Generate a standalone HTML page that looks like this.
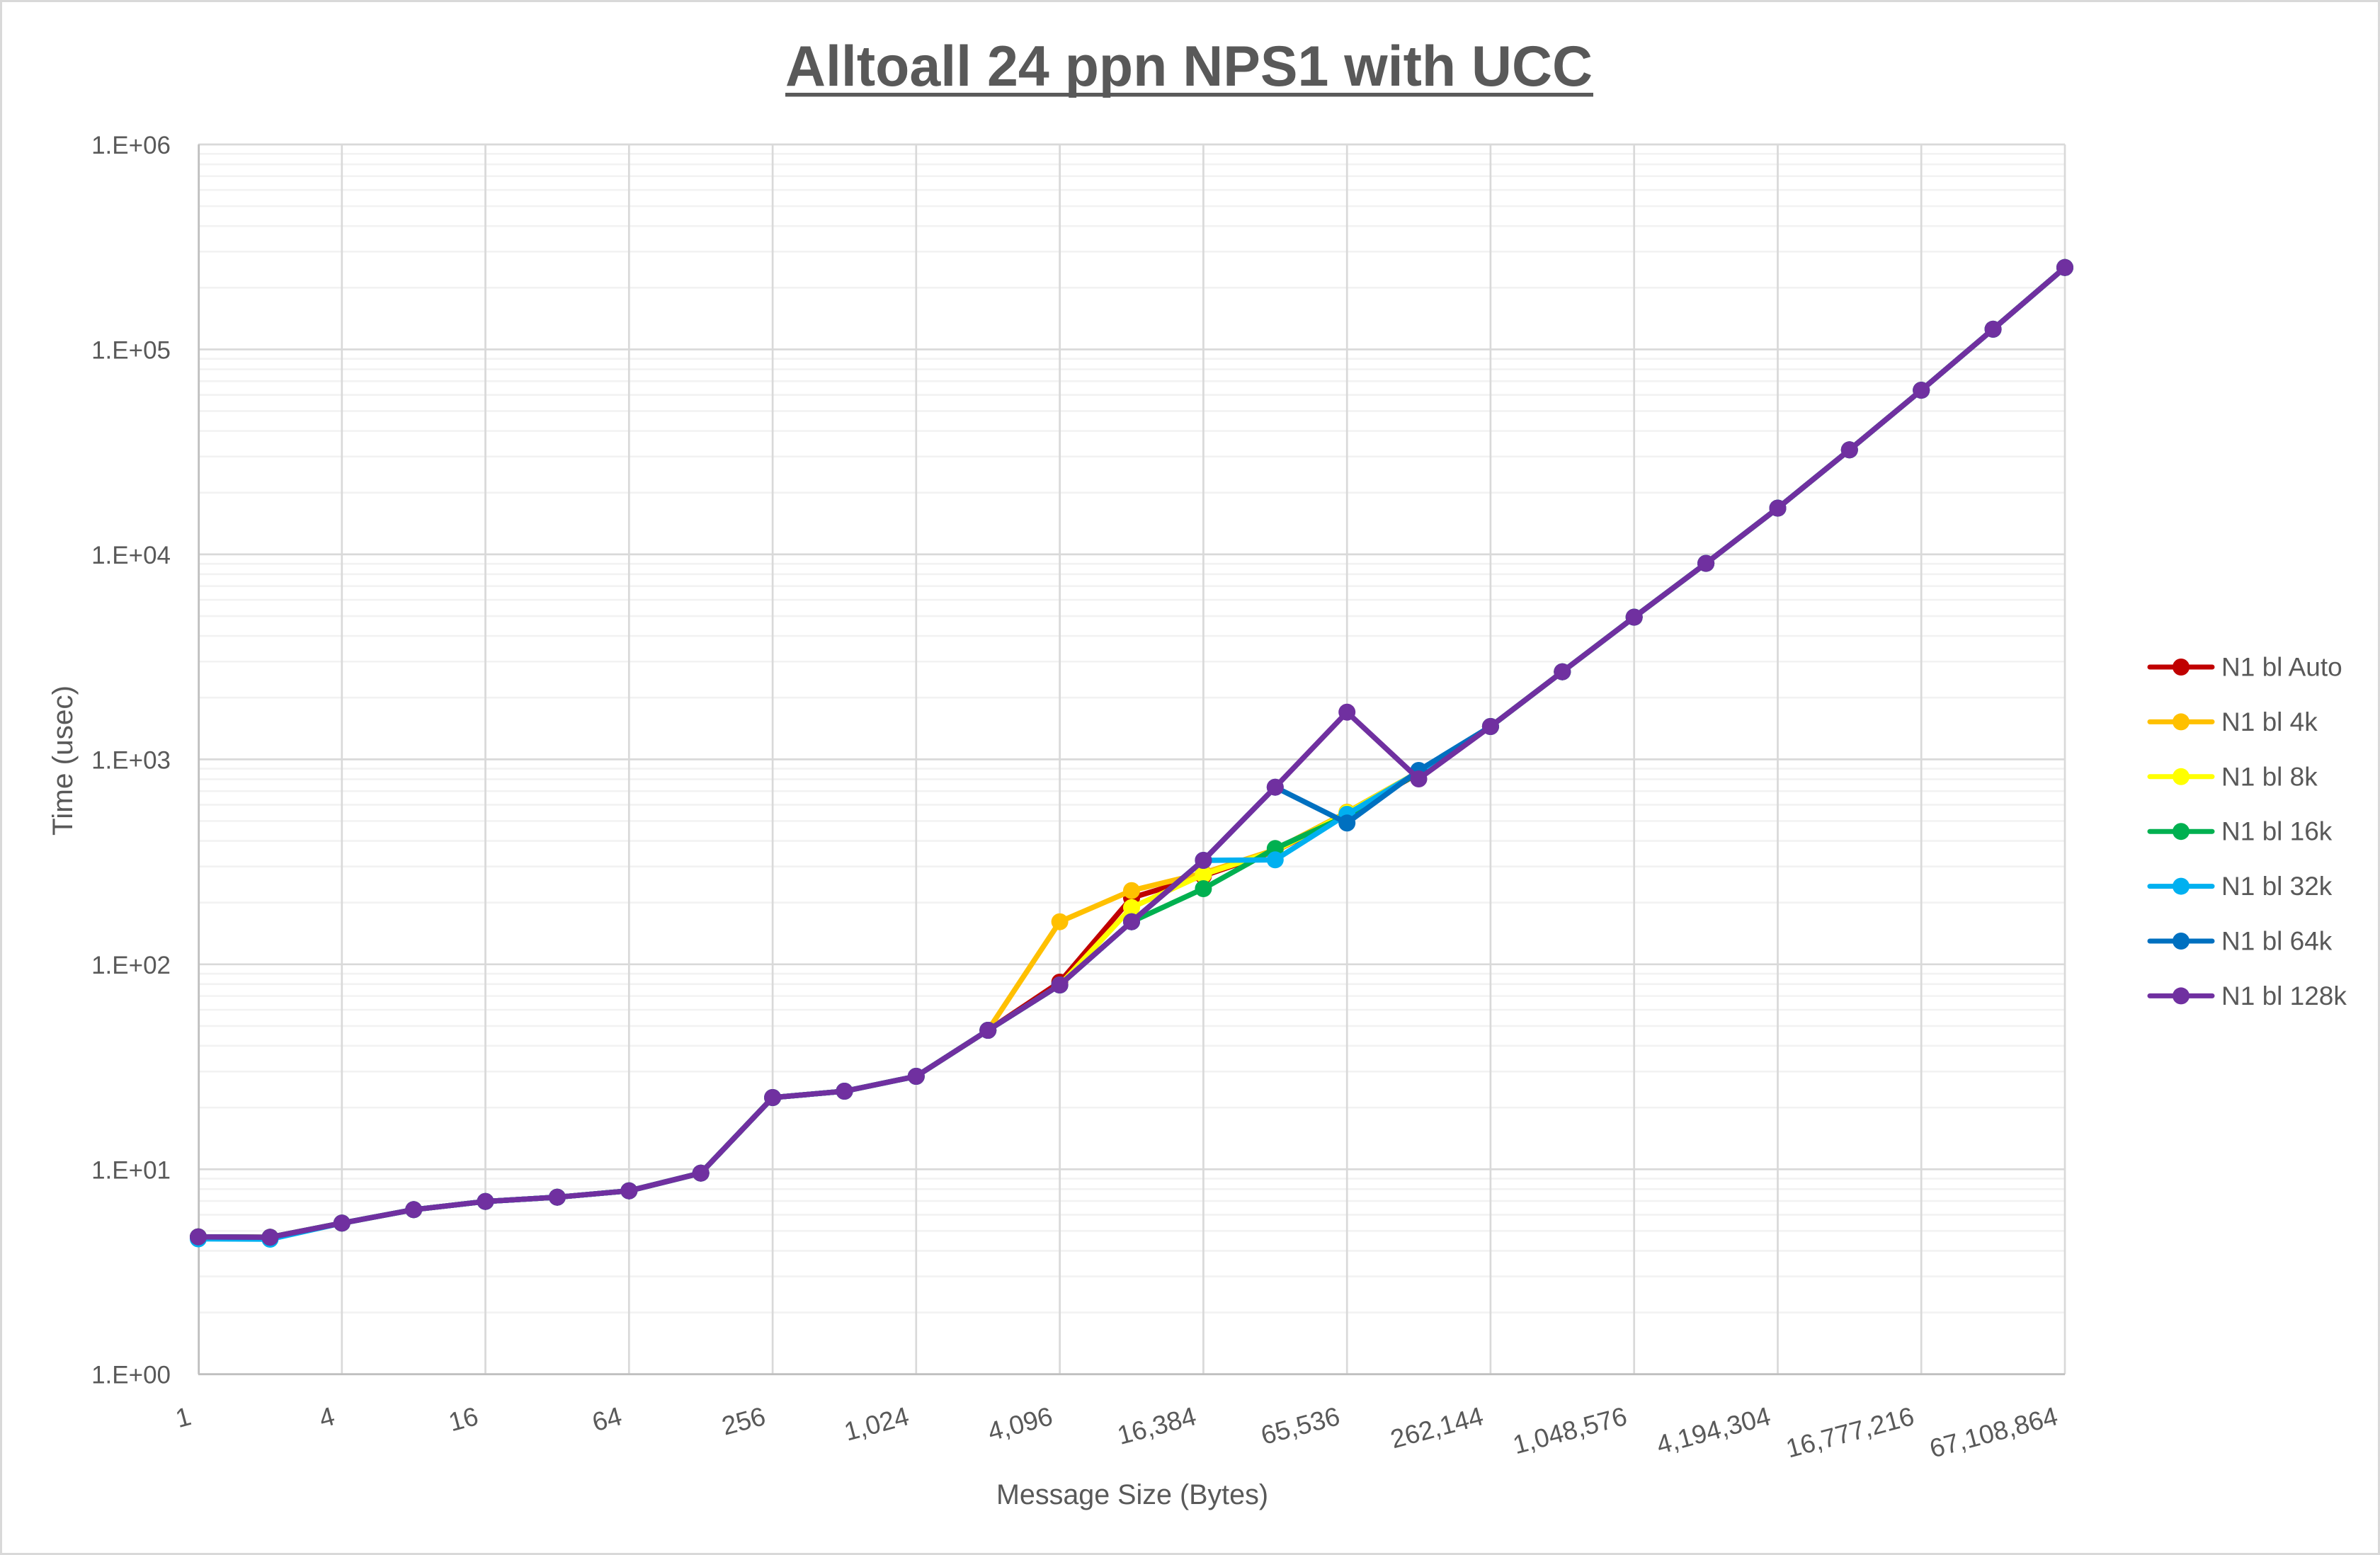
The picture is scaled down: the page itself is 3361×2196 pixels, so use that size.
<!DOCTYPE html>
<html>
<head>
<meta charset="utf-8">
<style>
html,body{margin:0;padding:0;background:#fff;}
svg{display:block;}
text{font-family:"Liberation Sans",Arial,sans-serif;fill:#595959;}
</style>
</head>
<body>
<svg width="3361" height="2196" viewBox="0 0 3361 2196" xmlns="http://www.w3.org/2000/svg">
<defs>
<marker id="mR" markerWidth="26" markerHeight="26" refX="13" refY="13" markerUnits="userSpaceOnUse"><circle cx="13" cy="13" r="12" fill="#C00000"/></marker>
<marker id="mO" markerWidth="26" markerHeight="26" refX="13" refY="13" markerUnits="userSpaceOnUse"><circle cx="13" cy="13" r="12" fill="#FFC000"/></marker>
<marker id="mY" markerWidth="26" markerHeight="26" refX="13" refY="13" markerUnits="userSpaceOnUse"><circle cx="13" cy="13" r="12" fill="#FFFF00"/></marker>
<marker id="mG" markerWidth="26" markerHeight="26" refX="13" refY="13" markerUnits="userSpaceOnUse"><circle cx="13" cy="13" r="12" fill="#00B050"/></marker>
<marker id="mC" markerWidth="26" markerHeight="26" refX="13" refY="13" markerUnits="userSpaceOnUse"><circle cx="13" cy="13" r="12" fill="#00B0F0"/></marker>
<marker id="mB" markerWidth="26" markerHeight="26" refX="13" refY="13" markerUnits="userSpaceOnUse"><circle cx="13" cy="13" r="12" fill="#0070C0"/></marker>
<marker id="mP" markerWidth="26" markerHeight="26" refX="13" refY="13" markerUnits="userSpaceOnUse"><circle cx="13" cy="13" r="12" fill="#7030A0"/></marker>
</defs>

<!-- chart background + border -->
<rect x="1.5" y="1.5" width="3358" height="2193" fill="#fff" stroke="#d9d9d9" stroke-width="3"/>

<!-- title -->
<text x="1679" y="121" font-size="81" font-weight="bold" text-anchor="middle" textLength="1140" lengthAdjust="spacingAndGlyphs">Alltoall 24 ppn NPS1 with UCC</text>
<rect x="1109" y="131" width="1141" height="5.5" fill="#595959"/>

<!-- minor gridlines -->
<path fill="none" stroke="#f2f2f2" stroke-width="2.6" d="
M280,217.25H2916 M280,232.05H2916 M280,248.83H2916 M280,268.21H2916 M280,291.13H2916 M280,319.18H2916 M280,355.35H2916 M280,406.32H2916
M280,506.7H2916 M280,521.5H2916 M280,538.28H2916 M280,557.66H2916 M280,580.58H2916 M280,608.63H2916 M280,644.8H2916 M280,695.77H2916
M280,796.15H2916 M280,810.95H2916 M280,827.73H2916 M280,847.11H2916 M280,870.03H2916 M280,898.08H2916 M280,934.25H2916 M280,985.22H2916
M280,1085.6H2916 M280,1100.4H2916 M280,1117.18H2916 M280,1136.56H2916 M280,1159.48H2916 M280,1187.53H2916 M280,1223.7H2916 M280,1274.67H2916
M280,1375.05H2916 M280,1389.85H2916 M280,1406.63H2916 M280,1426.01H2916 M280,1448.93H2916 M280,1476.98H2916 M280,1513.15H2916 M280,1564.12H2916
M280,1664.5H2916 M280,1679.3H2916 M280,1696.08H2916 M280,1715.46H2916 M280,1738.38H2916 M280,1766.43H2916 M280,1802.6H2916 M280,1853.57H2916"/>

<!-- major gridlines -->
<path fill="none" stroke="#d9d9d9" stroke-width="2.7" d="
M280,204H2916 M280,493.45H2916 M280,782.9H2916 M280,1072.35H2916 M280,1361.8H2916 M280,1651.25H2916
M482.8,204V1940.7 M685.5,204V1940.7 M888.3,204V1940.7 M1091.1,204V1940.7 M1293.8,204V1940.7 M1496.6,204V1940.7
M1699.4,204V1940.7 M1902.2,204V1940.7 M2104.9,204V1940.7 M2307.7,204V1940.7 M2510.5,204V1940.7 M2713.2,204V1940.7 M2916,204V1940.7"/>

<!-- axes -->
<path fill="none" stroke="#bfbfbf" stroke-width="2.8" d="M280.7,204V1940.7 M280,1940.7H2916"/>

<!-- y tick labels -->
<g font-size="35" text-anchor="end">
<text x="241" y="217">1.E+06</text>
<text x="241" y="506.5">1.E+05</text>
<text x="241" y="796">1.E+04</text>
<text x="241" y="1085.4">1.E+03</text>
<text x="241" y="1374.8">1.E+02</text>
<text x="241" y="1664.3">1.E+01</text>
<text x="241" y="1953.7">1.E+00</text>
</g>

<!-- x tick labels -->
<g font-size="37" text-anchor="end">
<text transform="translate(272,2011) rotate(-15)">1</text>
<text transform="translate(474.8,2011) rotate(-15)">4</text>
<text transform="translate(677.5,2011) rotate(-15)">16</text>
<text transform="translate(880.3,2011) rotate(-15)">64</text>
<text transform="translate(1083.1,2011) rotate(-15)">256</text>
<text transform="translate(1285.8,2011) rotate(-15)">1,024</text>
<text transform="translate(1488.6,2011) rotate(-15)">4,096</text>
<text transform="translate(1691.4,2011) rotate(-15)">16,384</text>
<text transform="translate(1894.2,2011) rotate(-15)">65,536</text>
<text transform="translate(2096.9,2011) rotate(-15)">262,144</text>
<text transform="translate(2299.7,2011) rotate(-15)">1,048,576</text>
<text transform="translate(2502.5,2011) rotate(-15)">4,194,304</text>
<text transform="translate(2705.2,2011) rotate(-15)">16,777,216</text>
<text transform="translate(2908,2011) rotate(-15)">67,108,864</text>
</g>

<!-- axis titles -->
<text x="1599" y="2124" font-size="40" text-anchor="middle" textLength="384" lengthAdjust="spacingAndGlyphs">Message Size (Bytes)</text>
<text transform="translate(102,1074) rotate(-90)" font-size="40" text-anchor="middle" textLength="212" lengthAdjust="spacingAndGlyphs">Time (usec)</text>

<!-- series -->
<g fill="none" stroke-width="7.5" stroke-linejoin="round" stroke-linecap="round">
<polyline stroke="#C00000" marker-start="url(#mR)" marker-mid="url(#mR)" marker-end="url(#mR)" points="280,1746.7 381.4,1747.3 482.8,1727.3 584.2,1708.3 685.5,1696.7 786.9,1690.7 888.3,1681.7 989.7,1656.7 1091.1,1550 1192.5,1541 1293.8,1520 1395.2,1455 1496.6,1387 1598,1268 1699.4,1237 1800.8,1202 1902.2,1150 2003.5,1092 2104.9,1026 2206.3,948.7 2307.7,871.6 2409.1,795.6 2510.5,717.6 2611.8,635.3 2713.2,551.1 2814.6,464.9 2916,377.8"/>
<polyline stroke="#FFC000" marker-start="url(#mO)" marker-mid="url(#mO)" marker-end="url(#mO)" points="280,1746.7 381.4,1747.3 482.8,1727.3 584.2,1708.3 685.5,1696.7 786.9,1690.7 888.3,1681.7 989.7,1656.7 1091.1,1550 1192.5,1541 1293.8,1520 1395.2,1455 1496.6,1301.7 1598,1257.7 1699.4,1233 1800.8,1200 1902.2,1147 2003.5,1090 2104.9,1026 2206.3,948.7 2307.7,871.6 2409.1,795.6 2510.5,717.6 2611.8,635.3 2713.2,551.1 2814.6,464.9 2916,377.8"/>
<polyline stroke="#FFFF00" marker-start="url(#mY)" marker-mid="url(#mY)" marker-end="url(#mY)" points="280,1746.7 381.4,1747.3 482.8,1727.3 584.2,1708.3 685.5,1696.7 786.9,1690.7 888.3,1681.7 989.7,1656.7 1091.1,1550 1192.5,1541 1293.8,1520 1395.2,1455 1496.6,1391 1598,1281.7 1699.4,1235 1800.8,1201.7 1902.2,1148.3 2003.5,1090 2104.9,1026 2206.3,948.7 2307.7,871.6 2409.1,795.6 2510.5,717.6 2611.8,635.3 2713.2,551.1 2814.6,464.9 2916,377.8"/>
<polyline stroke="#00B050" marker-start="url(#mG)" marker-mid="url(#mG)" marker-end="url(#mG)" points="280,1746.7 381.4,1747.3 482.8,1727.3 584.2,1708.3 685.5,1696.7 786.9,1690.7 888.3,1681.7 989.7,1656.7 1091.1,1550 1192.5,1541 1293.8,1520 1395.2,1455 1496.6,1391 1598,1301.7 1699.4,1255 1800.8,1198.3 1902.2,1152 2003.5,1091 2104.9,1026 2206.3,948.7 2307.7,871.6 2409.1,795.6 2510.5,717.6 2611.8,635.3 2713.2,551.1 2814.6,464.9 2916,377.8"/>
<polyline stroke="#00B0F0" marker-start="url(#mC)" marker-mid="url(#mC)" marker-end="url(#mC)" points="280,1749.5 381.4,1750 482.8,1727.3 584.2,1708.3 685.5,1696.7 786.9,1690.7 888.3,1681.7 989.7,1656.7 1091.1,1550 1192.5,1541 1293.8,1520 1395.2,1455 1496.6,1391 1598,1301.7 1699.4,1215 1800.8,1214.3 1902.2,1150 2003.5,1090 2104.9,1026 2206.3,948.7 2307.7,871.6 2409.1,795.6 2510.5,717.6 2611.8,635.3 2713.2,551.1 2814.6,464.9 2916,377.8"/>
<polyline stroke="#0070C0" marker-start="url(#mB)" marker-mid="url(#mB)" marker-end="url(#mB)" points="280,1746.7 381.4,1747.3 482.8,1727.3 584.2,1708.3 685.5,1696.7 786.9,1690.7 888.3,1681.7 989.7,1656.7 1091.1,1550 1192.5,1541 1293.8,1520 1395.2,1455 1496.6,1391 1598,1301.7 1699.4,1215 1800.8,1111.7 1902.2,1162.3 2003.5,1088 2104.9,1026 2206.3,948.7 2307.7,871.6 2409.1,795.6 2510.5,717.6 2611.8,635.3 2713.2,551.1 2814.6,464.9 2916,377.8"/>
<polyline stroke="#7030A0" marker-start="url(#mP)" marker-mid="url(#mP)" marker-end="url(#mP)" points="280,1746.7 381.4,1747.3 482.8,1727.3 584.2,1708.3 685.5,1696.7 786.9,1690.7 888.3,1681.7 989.7,1656.7 1091.1,1550 1192.5,1541 1293.8,1520 1395.2,1455 1496.6,1391 1598,1301.7 1699.4,1215 1800.8,1111.7 1902.2,1005.7 2003.5,1100 2104.9,1026 2206.3,948.7 2307.7,871.6 2409.1,795.6 2510.5,717.6 2611.8,635.3 2713.2,551.1 2814.6,464.9 2916,377.8"/>
</g>

<!-- legend -->
<g stroke-width="7" stroke-linecap="round">
<line x1="3036" y1="942" x2="3124" y2="942" stroke="#C00000"/>
<line x1="3036" y1="1019.4" x2="3124" y2="1019.4" stroke="#FFC000"/>
<line x1="3036" y1="1096.8" x2="3124" y2="1096.8" stroke="#FFFF00"/>
<line x1="3036" y1="1174.2" x2="3124" y2="1174.2" stroke="#00B050"/>
<line x1="3036" y1="1251.6" x2="3124" y2="1251.6" stroke="#00B0F0"/>
<line x1="3036" y1="1329" x2="3124" y2="1329" stroke="#0070C0"/>
<line x1="3036" y1="1406.4" x2="3124" y2="1406.4" stroke="#7030A0"/>
</g>
<circle cx="3080" cy="942" r="12" fill="#C00000"/>
<circle cx="3080" cy="1019.4" r="12" fill="#FFC000"/>
<circle cx="3080" cy="1096.8" r="12" fill="#FFFF00"/>
<circle cx="3080" cy="1174.2" r="12" fill="#00B050"/>
<circle cx="3080" cy="1251.6" r="12" fill="#00B0F0"/>
<circle cx="3080" cy="1329" r="12" fill="#0070C0"/>
<circle cx="3080" cy="1406.4" r="12" fill="#7030A0"/>
<g font-size="37">
<text x="3137" y="954.5">N1 bl Auto</text>
<text x="3137" y="1031.9">N1 bl 4k</text>
<text x="3137" y="1109.3">N1 bl 8k</text>
<text x="3137" y="1186.7">N1 bl 16k</text>
<text x="3137" y="1264.1">N1 bl 32k</text>
<text x="3137" y="1341.5">N1 bl 64k</text>
<text x="3137" y="1418.9">N1 bl 128k</text>
</g>
</svg>
</body>
</html>
